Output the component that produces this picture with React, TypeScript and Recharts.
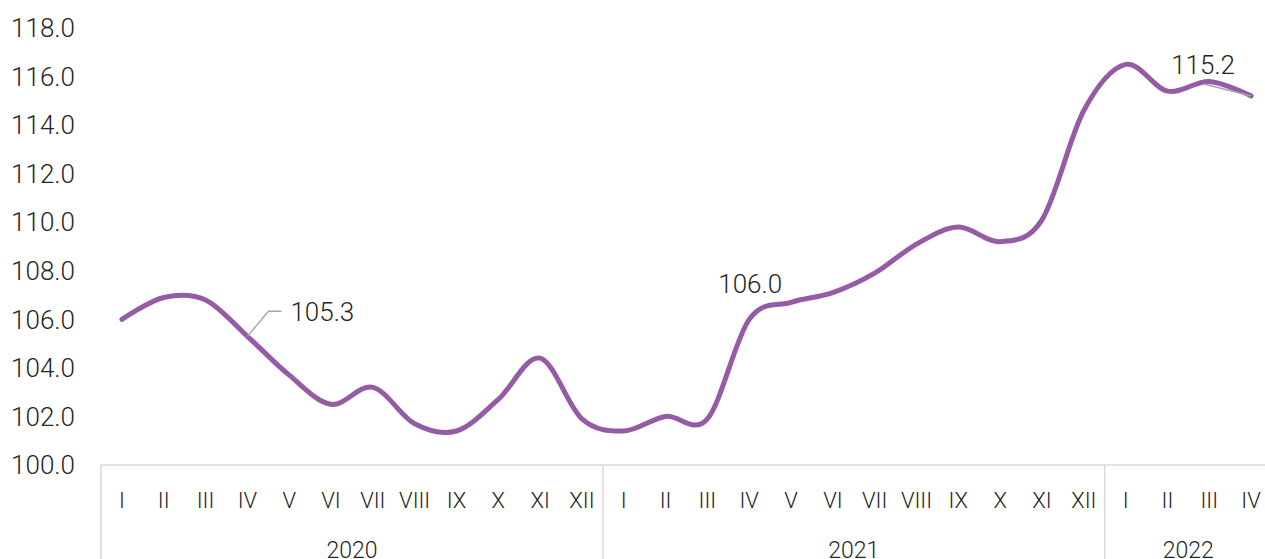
import React from 'react'
import { LineChart, Line, XAxis, YAxis, LabelList } from 'recharts'

const YEARS = ['2020', '2021', '2022']
const MONTHS_PER_YEAR = [12, 12, 4]
const MONTHS = ['I', 'II', 'III', 'IV', 'V', 'VI', 'VII', 'VIII', 'IX', 'X', 'XI', 'XII']
const VALUES = [
    106.0, 106.9, 106.8, 105.3, 103.7, 102.5, 103.2, 101.7, 101.4, 102.7, 104.4, 101.9,
    101.4, 102.0, 101.9, 106.0, 106.7, 107.1, 107.9, 109.1, 109.8, 109.2, 110.1, 114.6,
    116.5, 115.4, 115.8, 115.2,
]
const Y_TICKS = [100, 102, 104, 106, 108, 110, 112, 114, 116, 118]
const LABELLED = [3, 15, 27]

const WIDTH = 1272
const HEIGHT = 559
const Y_AXIS_W = 101
const FONT = 'Roboto, sans-serif'
const TEXT = '#262626'
const GRID = '#d9d9d9'
const PURPLE = '#955ba5'

const rows = YEARS.flatMap((year, yi) =>
    MONTHS.slice(0, MONTHS_PER_YEAR[yi]).map((month, mi) => ({
        key: `${year}-${month}`,
        year,
        month,
        first: mi === 0,
        span: MONTHS_PER_YEAR[yi],
    }))
).map((r, i) => ({ ...r, value: VALUES[i] }))

const BAND = (WIDTH - Y_AXIS_W) / rows.length

// Excel-like smoothing (cardinal / catmull-rom)
function excelCurve(context: any) {
    const k = 1 / 6
    let x0 = NaN, y0 = NaN, x1 = NaN, y1 = NaN, x2 = NaN, y2 = NaN, pt = 0, line = NaN
    const seg = (x: number, y: number) => {
        context.bezierCurveTo(
            x1 + k * (x2 - x0), y1 + k * (y2 - y0),
            x2 + k * (x1 - x), y2 + k * (y1 - y),
            x2, y2
        )
    }
    return {
        areaStart() { line = 0 },
        areaEnd() { line = NaN },
        lineStart() { x0 = x1 = x2 = y0 = y1 = y2 = NaN; pt = 0 },
        lineEnd() {
            if (pt === 2) context.lineTo(x2, y2)
            else if (pt === 3) seg(x1, y1)
            if (line || (line !== 0 && pt === 1)) context.closePath()
            line = 1 - line
        },
        point(x: number, y: number) {
            x = +x; y = +y
            switch (pt) {
                case 0: pt = 1; line ? context.lineTo(x, y) : context.moveTo(x, y); break
                case 1: pt = 2; x1 = x; y1 = y; break
                case 2: pt = 3; seg(x, y); break
                default: seg(x, y); break
            }
            x0 = x1; x1 = x2; x2 = x
            y0 = y1; y1 = y2; y2 = y
        },
    }
}

const MonthTick = (props: any) => {
    const { x, y, payload } = props
    const r = rows[payload.index]
    if (!r) return null
    return (
        <g>
            <text x={x} y={y + 43} textAnchor="middle" fontFamily={FONT} fontWeight={300} fontSize={22} fill={TEXT}>
                {r.month}
            </text>
            {r.first && (
                <>
                    <line x1={x - BAND / 2} y1={y} x2={x - BAND / 2} y2={y + 94} stroke={GRID} strokeWidth={1.5} />
                    <text x={x + ((r.span - 1) / 2) * BAND} y={y + 93} textAnchor="middle" fontFamily={FONT} fontWeight={300} fontSize={23} fill={TEXT}>
                        {r.year}
                    </text>
                </>
            )}
        </g>
    )
}

const PointLabel = (props: any) => {
    const { x, y, index, value } = props
    if (!LABELLED.includes(index)) return null
    const txt = Number(value).toFixed(1)
    const style = { fontFamily: FONT, fontWeight: 300, fontSize: 26, fill: TEXT }
    if (index === 3) {
        return (
            <g>
                <polyline points={`${x},${y} ${x + 21},${y - 25} ${x + 34},${y - 25}`} fill="none" stroke="#a6a6a6" strokeWidth={1.5} />
                <text x={x + 43} y={y - 15} {...style}>{txt}</text>
            </g>
        )
    }
    if (index === 15) {
        return <text x={x + 1} y={y - 26} textAnchor="middle" {...style}>{txt}</text>
    }
    return (
        <g>
            <line x1={x - 47} y1={y - 12} x2={x} y2={y} stroke="#a6a6a6" strokeWidth={1.5} />
            <text x={x - 48} y={y - 22} textAnchor="middle" {...style}>{txt}</text>
        </g>
    )
}

export default function App() {
    return (
        <div style={{ position: 'absolute', left: 0, top: 0, width: 1265, height: 559, overflow: 'hidden', background: '#fff' }}>
            <LineChart width={WIDTH} height={HEIGHT} data={rows} margin={{ top: 28, right: 0, bottom: 0, left: 0 }}>
                <XAxis
                    dataKey="key"
                    interval={0}
                    height={94}
                    tickLine={false}
                    tickSize={0}
                    tickMargin={0}
                    axisLine={{ stroke: GRID, strokeWidth: 1.5 }}
                    padding={{ left: BAND / 2, right: BAND / 2 }}
                    tick={<MonthTick />}
                />
                <YAxis
                    domain={[100, 118]}
                    ticks={Y_TICKS}
                    interval={0}
                    width={Y_AXIS_W}
                    axisLine={false}
                    tickLine={false}
                    tickSize={0}
                    tickMargin={26}
                    tickFormatter={(v: number) => v.toFixed(1)}
                    tick={{ fontFamily: FONT, fontWeight: 300, fontSize: 26, fill: TEXT }}
                />
                <Line
                    dataKey="value"
                    type={excelCurve as any}
                    stroke={PURPLE}
                    strokeWidth={5}
                    strokeLinecap="round"
                    dot={false}
                    activeDot={false}
                    isAnimationActive={false}
                >
                    <LabelList dataKey="value" content={<PointLabel />} />
                </Line>
            </LineChart>
        </div>
    )
}
